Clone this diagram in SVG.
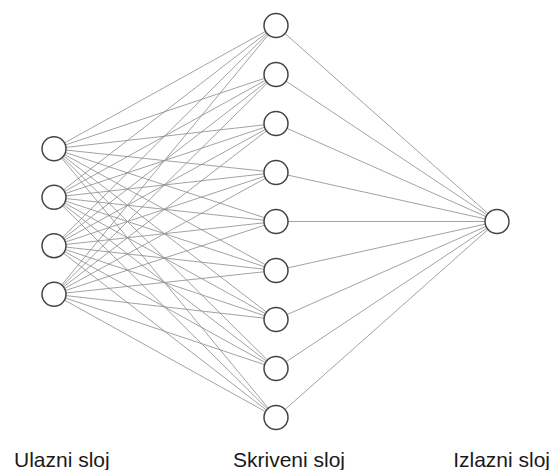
<svg xmlns="http://www.w3.org/2000/svg" width="553" height="470" viewBox="0 0 553 470">
<style>
.e{stroke:#8a8a8a;stroke-width:0.8;fill:none}
.n{fill:#fff;stroke:#444;stroke-width:1.5}
.t{font-family:"Liberation Sans",Arial,sans-serif;font-size:21px;fill:#1a1a1a}
</style>
<rect width="553" height="470" fill="#fff"/>
<g id="connectors">
<line class="e" x1="54" y1="148.75" x2="276" y2="25.5"/><line class="e" x1="54" y1="148.75" x2="276" y2="74.5"/><line class="e" x1="54" y1="148.75" x2="276" y2="123.5"/><line class="e" x1="54" y1="148.75" x2="276" y2="172.5"/><line class="e" x1="54" y1="148.75" x2="276" y2="221.5"/><line class="e" x1="54" y1="148.75" x2="276" y2="270.5"/><line class="e" x1="54" y1="148.75" x2="276" y2="319.5"/><line class="e" x1="54" y1="148.75" x2="276" y2="368.5"/><line class="e" x1="54" y1="148.75" x2="276" y2="417.5"/>
<line class="e" x1="54" y1="197.25" x2="276" y2="25.5"/><line class="e" x1="54" y1="197.25" x2="276" y2="74.5"/><line class="e" x1="54" y1="197.25" x2="276" y2="123.5"/><line class="e" x1="54" y1="197.25" x2="276" y2="172.5"/><line class="e" x1="54" y1="197.25" x2="276" y2="221.5"/><line class="e" x1="54" y1="197.25" x2="276" y2="270.5"/><line class="e" x1="54" y1="197.25" x2="276" y2="319.5"/><line class="e" x1="54" y1="197.25" x2="276" y2="368.5"/><line class="e" x1="54" y1="197.25" x2="276" y2="417.5"/>
<line class="e" x1="54" y1="245.75" x2="276" y2="25.5"/><line class="e" x1="54" y1="245.75" x2="276" y2="74.5"/><line class="e" x1="54" y1="245.75" x2="276" y2="123.5"/><line class="e" x1="54" y1="245.75" x2="276" y2="172.5"/><line class="e" x1="54" y1="245.75" x2="276" y2="221.5"/><line class="e" x1="54" y1="245.75" x2="276" y2="270.5"/><line class="e" x1="54" y1="245.75" x2="276" y2="319.5"/><line class="e" x1="54" y1="245.75" x2="276" y2="368.5"/><line class="e" x1="54" y1="245.75" x2="276" y2="417.5"/>
<line class="e" x1="54" y1="294.25" x2="276" y2="25.5"/><line class="e" x1="54" y1="294.25" x2="276" y2="74.5"/><line class="e" x1="54" y1="294.25" x2="276" y2="123.5"/><line class="e" x1="54" y1="294.25" x2="276" y2="172.5"/><line class="e" x1="54" y1="294.25" x2="276" y2="221.5"/><line class="e" x1="54" y1="294.25" x2="276" y2="270.5"/><line class="e" x1="54" y1="294.25" x2="276" y2="319.5"/><line class="e" x1="54" y1="294.25" x2="276" y2="368.5"/><line class="e" x1="54" y1="294.25" x2="276" y2="417.5"/>
<line class="e" x1="276" y1="25.5" x2="497" y2="221.5"/><line class="e" x1="276" y1="74.5" x2="497" y2="221.5"/><line class="e" x1="276" y1="123.5" x2="497" y2="221.5"/><line class="e" x1="276" y1="172.5" x2="497" y2="221.5"/><line class="e" x1="276" y1="221.5" x2="497" y2="221.5"/><line class="e" x1="276" y1="270.5" x2="497" y2="221.5"/><line class="e" x1="276" y1="319.5" x2="497" y2="221.5"/><line class="e" x1="276" y1="368.5" x2="497" y2="221.5"/><line class="e" x1="276" y1="417.5" x2="497" y2="221.5"/>
</g>
<g id="in1"><circle class="n" cx="54" cy="148.75" r="12"/></g>
<g id="in2"><circle class="n" cx="54" cy="197.25" r="12"/></g>
<g id="in3"><circle class="n" cx="54" cy="245.75" r="12"/></g>
<g id="in4"><circle class="n" cx="54" cy="294.25" r="12"/></g>
<g id="h1"><circle class="n" cx="276" cy="25.5" r="12"/></g>
<g id="h2"><circle class="n" cx="276" cy="74.5" r="12"/></g>
<g id="h3"><circle class="n" cx="276" cy="123.5" r="12"/></g>
<g id="h4"><circle class="n" cx="276" cy="172.5" r="12"/></g>
<g id="h5"><circle class="n" cx="276" cy="221.5" r="12"/></g>
<g id="h6"><circle class="n" cx="276" cy="270.5" r="12"/></g>
<g id="h7"><circle class="n" cx="276" cy="319.5" r="12"/></g>
<g id="h8"><circle class="n" cx="276" cy="368.5" r="12"/></g>
<g id="h9"><circle class="n" cx="276" cy="417.5" r="12"/></g>
<g id="out1"><circle class="n" cx="497" cy="221.5" r="12"/></g>
<g id="labels">
<text class="t" x="14" y="467">Ulazni sloj</text>
<text class="t" x="233" y="467">Skriveni sloj</text>
<text class="t" x="550" y="467" text-anchor="end">Izlazni sloj</text>
</g>
</svg>
